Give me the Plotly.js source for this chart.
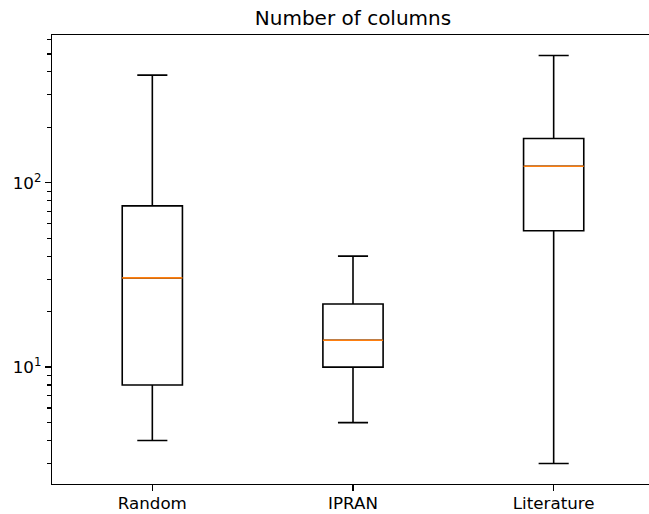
<!DOCTYPE html>
<html>
<head>
<meta charset="utf-8">
<script src="https://cdn.plot.ly/plotly-3.0.1.min.js"></script>
<style>
html, body { margin: 0; padding: 0; overflow: hidden; background: #fff; }
#chart { width: 660px; height: 514px; }
</style>
</head>
<body>
<div id="chart"></div>
<script>
// Data (log scale)
const categories = ["Random", "IPRAN", "Literature"];
const lowerWhisker = [4, 5, 3];
const q1Values = [8, 10, 55];
const medianValues = [30.5, 14, 123];
const q3Values = [75, 22, 174];
const upperWhisker = [384, 40, 491];

const yTickVals = [10, 100];
const yTickText = ["10<sup>1</sup>", "10<sup>2</sup>"];
const yMinorVals = [3, 4, 5, 6, 7, 8, 9, 20, 30, 40, 50, 60, 70, 80, 90, 200, 300, 400, 500, 600];

const boxWidth = 0.3;

const trace = {
  type: "box",
  x: categories,
  q1: q1Values,
  median: medianValues,
  q3: q3Values,
  lowerfence: lowerWhisker,
  upperfence: upperWhisker,
  width: boxWidth,
  whiskerwidth: 0.5,
  line: { color: "black", width: 1.6 },
  fillcolor: "rgba(0,0,0,0)",
  boxpoints: false,
  hoverinfo: "skip",
  showlegend: false
};

// orange median lines, derived from the median array
const shapes = medianValues.map((m, i) => ({
  type: "line",
  xref: "x", yref: "y",
  x0: i - boxWidth / 2, x1: i + boxWidth / 2,
  y0: m, y1: m,
  line: { color: "#ff7f0e", width: 1.6 },
  layer: "above"
}));

const font = { family: "DejaVu Sans, sans-serif", size: 16.7, color: "black" };

const layout = {
  width: 660,
  height: 514,
  margin: { l: 52, r: 6, t: 35, b: 30, pad: 0 },
  paper_bgcolor: "white",
  plot_bgcolor: "white",
  font: font,
  showlegend: false,
  title: {
    text: "Number of columns",
    font: { family: "DejaVu Sans, sans-serif", size: 20, color: "black" },
    x: 0.5, xref: "paper", xanchor: "center",
    y: 1, yref: "paper", yanchor: "bottom",
    pad: { b: 10 }
  },
  xaxis: {
    type: "category",
    range: [-0.5, 2.5],
    showgrid: false,
    zeroline: false,
    showline: true,
    mirror: true,
    linecolor: "black",
    linewidth: 1.3,
    ticks: "outside",
    ticklen: 6,
    tickwidth: 1.3,
    tickcolor: "black",
    tickfont: font,
    ticklabelstandoff: -2,
    fixedrange: true
  },
  yaxis: {
    type: "log",
    range: [0.366, 2.802],
    showgrid: false,
    zeroline: false,
    showline: true,
    mirror: true,
    linecolor: "black",
    linewidth: 1.3,
    ticks: "outside",
    ticklen: 6,
    tickwidth: 1.3,
    tickcolor: "black",
    tickmode: "array",
    tickvals: yTickVals,
    ticktext: yTickText,
    tickfont: font,
    minor: {
      tickmode: "array",
      tickvals: yMinorVals,
      ticks: "outside",
      ticklen: 3.5,
      tickwidth: 1.1,
      tickcolor: "black",
      showgrid: false
    },
    fixedrange: true
  },
  shapes: shapes
};

Plotly.newPlot("chart", [trace], layout, { displayModeBar: false, staticPlot: true });
</script>
</body>
</html>
